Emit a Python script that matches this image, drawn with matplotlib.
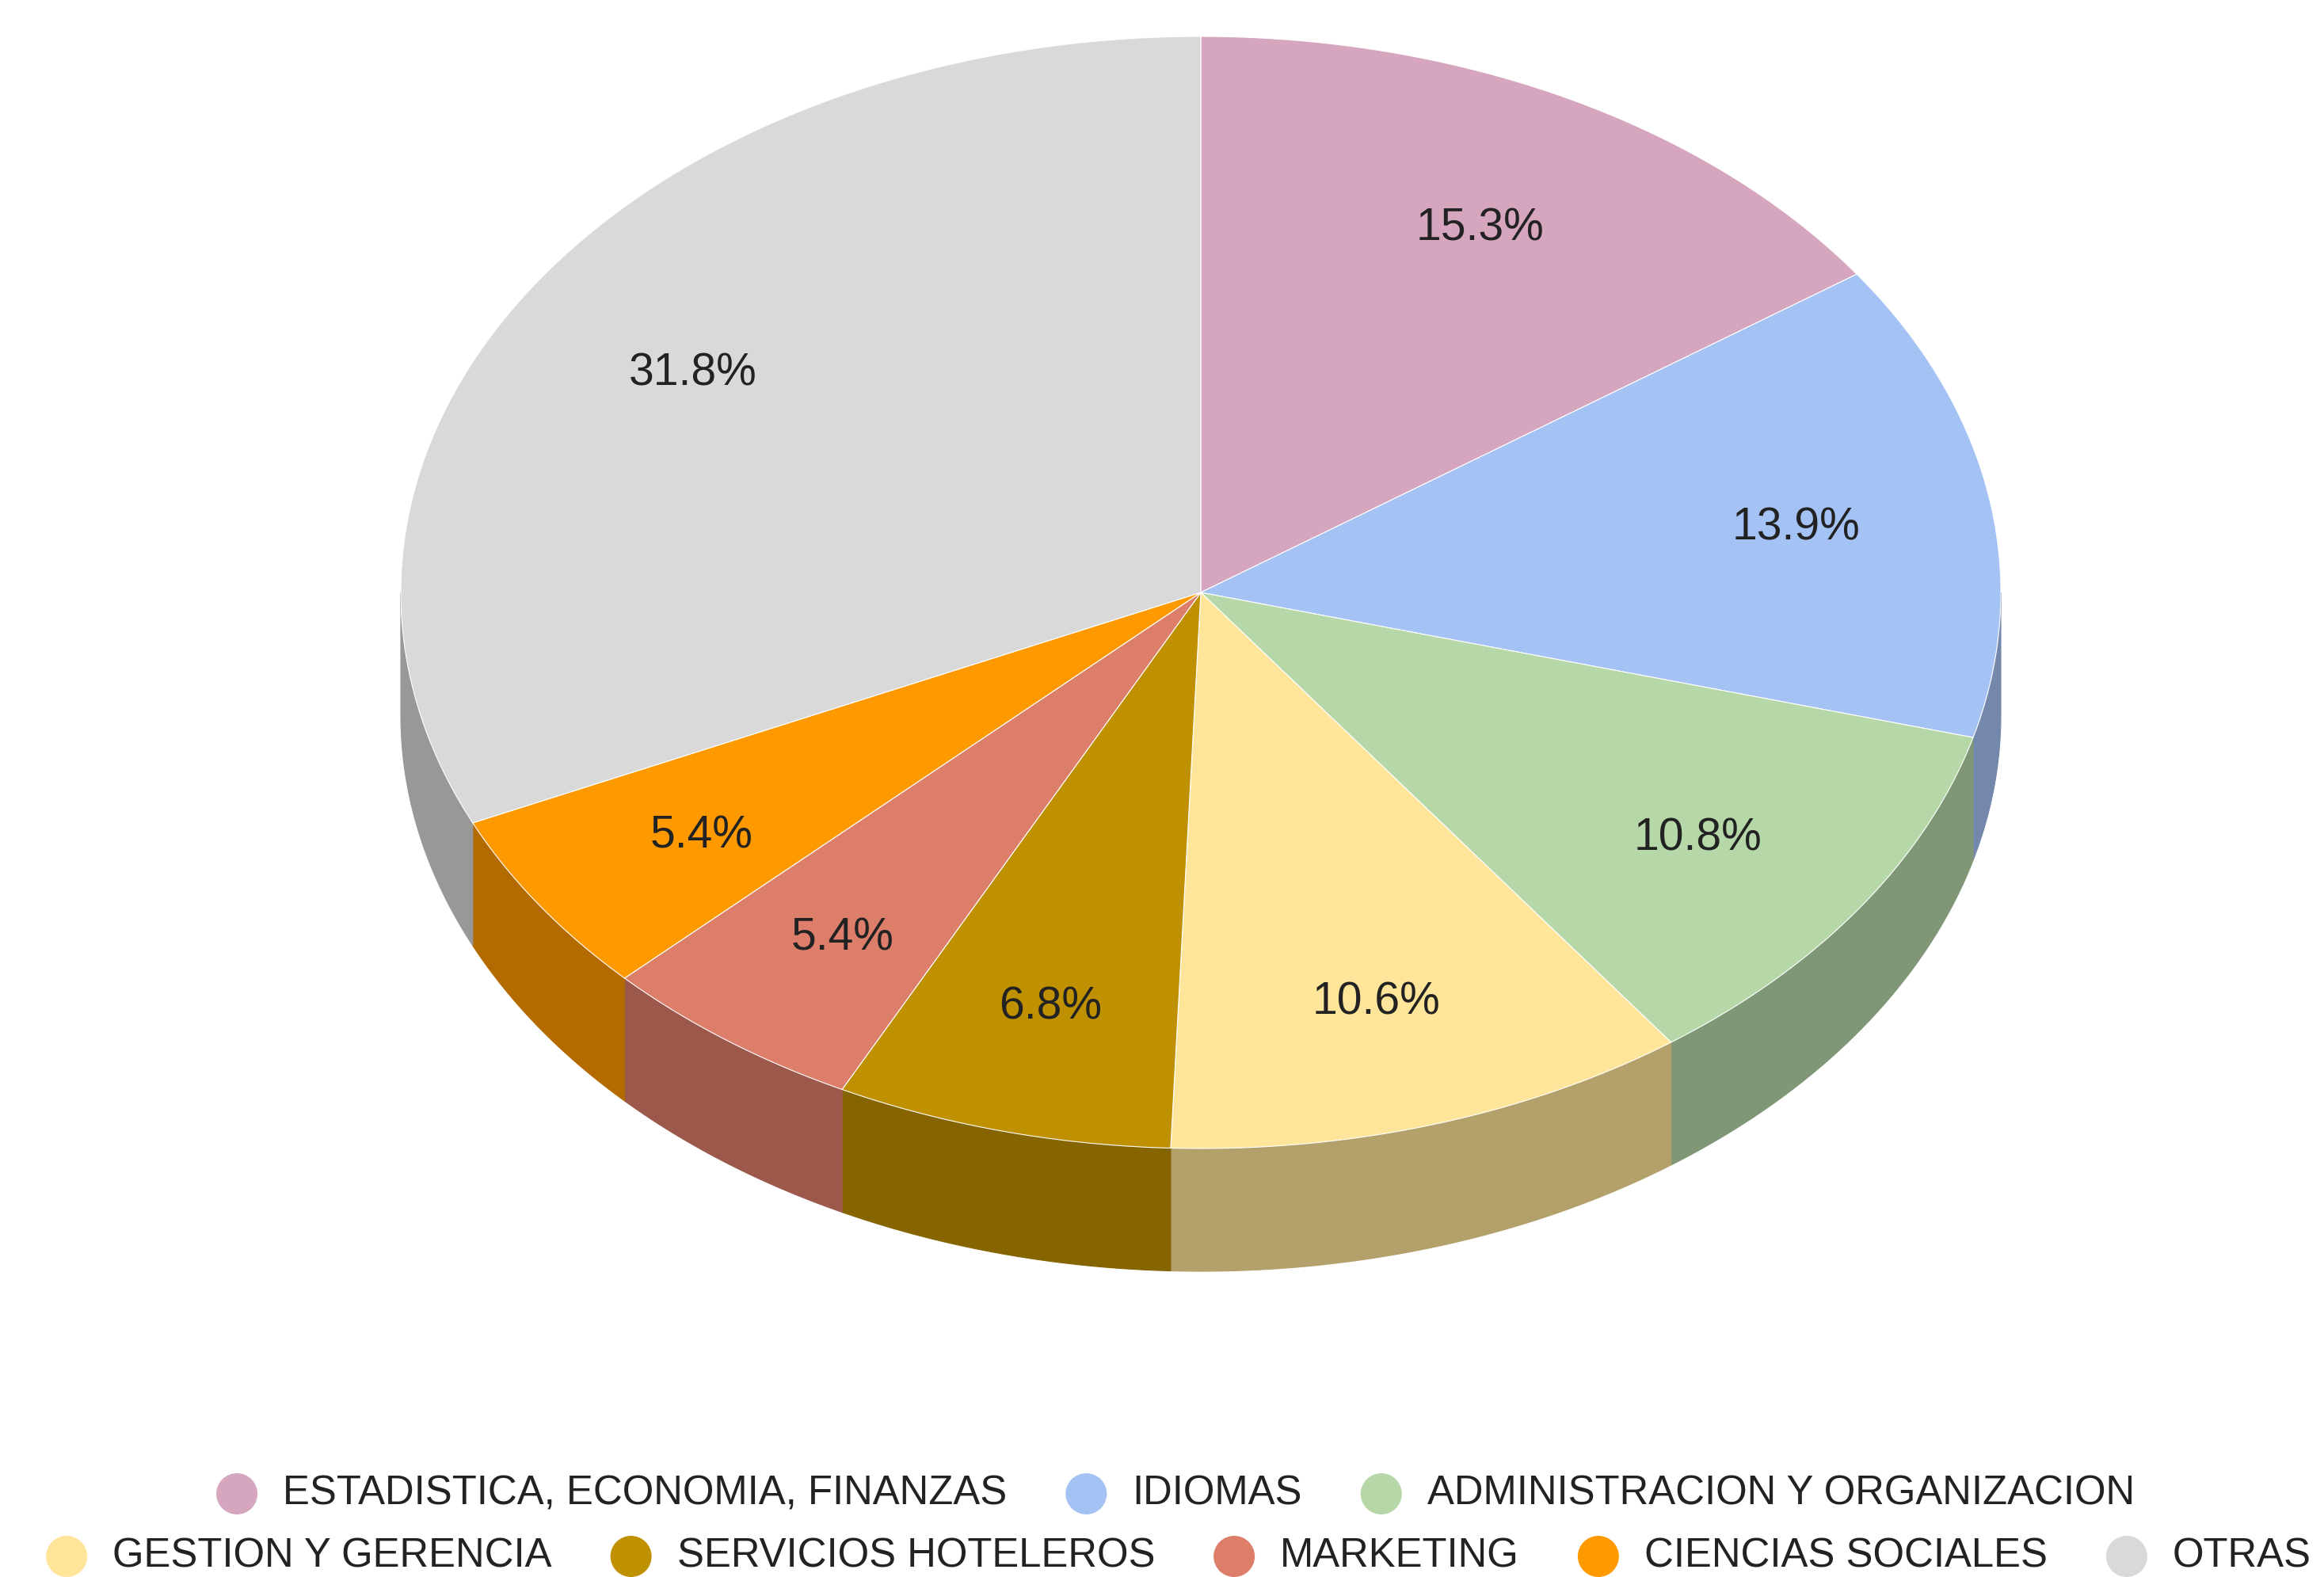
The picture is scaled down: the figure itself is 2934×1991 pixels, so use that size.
import numpy as np
import matplotlib.pyplot as plt
from matplotlib.patches import Polygon, Circle
from matplotlib.colors import to_rgb

# data
categories = ["ESTADISTICA, ECONOMIA, FINANZAS", "IDIOMAS", "ADMINISTRACION Y ORGANIZACION",
              "GESTION Y GERENCIA", "SERVICIOS HOTELEROS", "MARKETING", "CIENCIAS SOCIALES", "OTRAS"]
shares = [15.3, 13.9, 10.8, 10.6, 6.8, 5.4, 5.4, 31.8]
colors = ["#d5a6bd", "#a4c2f4", "#b6d7a8", "#ffe599", "#bf9000", "#dd7e6b", "#ff9900", "#d9d9d9"]
legend_rows = [3, 5]

W, H = 2934, 1991
cx, cy = 1516, 748
rx, ry = 1010, 702
depth = 155

plt.rcParams['font.family'] = ['Liberation Sans', 'DejaVu Sans']

fig = plt.figure(figsize=(W / 100, H / 100), dpi=100)
ax = fig.add_axes([0, 0, 1, 1])
ax.set_xlim(0, W)
ax.set_ylim(H, 0)
ax.axis('off')


def arc(t0, t1, dy=0, n=200):
    t = np.radians(np.linspace(t0, t1, n))
    return np.column_stack([cx + rx * np.sin(t), cy + dy - ry * np.cos(t)])


angles = np.cumsum([0] + [s / sum(shares) * 360 for s in shares])

# side walls (front half only)
for i, col in enumerate(colors):
    a0, a1 = max(angles[i], 90), min(angles[i + 1], 270)
    if a1 <= a0:
        continue
    top = arc(a0, a1)
    bot = arc(a1, a0, dy=depth)
    side = tuple(c * 0.7 for c in to_rgb(col))
    ax.add_patch(Polygon(np.vstack([top, bot]), closed=True, facecolor=side,
                         edgecolor=side, lw=0.8))

# top face
for i, col in enumerate(colors):
    pts = np.vstack([[cx, cy], arc(angles[i], angles[i + 1])])
    ax.add_patch(Polygon(pts, closed=True, facecolor=col, edgecolor='white', lw=0.8))
    mid = np.radians((angles[i] + angles[i + 1]) / 2)
    ax.text(cx + 0.755 * rx * np.sin(mid), cy + 10 - 0.755 * ry * np.cos(mid),
            f"{shares[i]:.1f}%", fontsize=41, color='#222222', ha='center', va='center')

# legend, two centered rows
renderer = fig.canvas.get_renderer()
row_y = [1886, 1965]
row_cx = [1510, 1540]
r = 26
text_off = 58
gap = 100
idx = 0
for row, n in enumerate(legend_rows):
    items = list(range(idx, idx + n))
    idx += n
    texts = []
    for k in items:
        t = ax.text(0, row_y[row], categories[k], fontsize=36.6, color='#222222',
                    ha='left', va='center')
        texts.append(t)
    widths = [t.get_window_extent(renderer).width for t in texts]
    total = sum(r + text_off + w for w in widths) + gap * (n - 1)
    x = row_cx[row] - total / 2 + r
    for k, t, w in zip(items, texts, widths):
        ax.add_patch(Circle((x, row_y[row]), r, facecolor=colors[k], edgecolor='none'))
        t.set_x(x + text_off)
        x += text_off + w + gap

fig.savefig("out.png", dpi=100, facecolor='white')
